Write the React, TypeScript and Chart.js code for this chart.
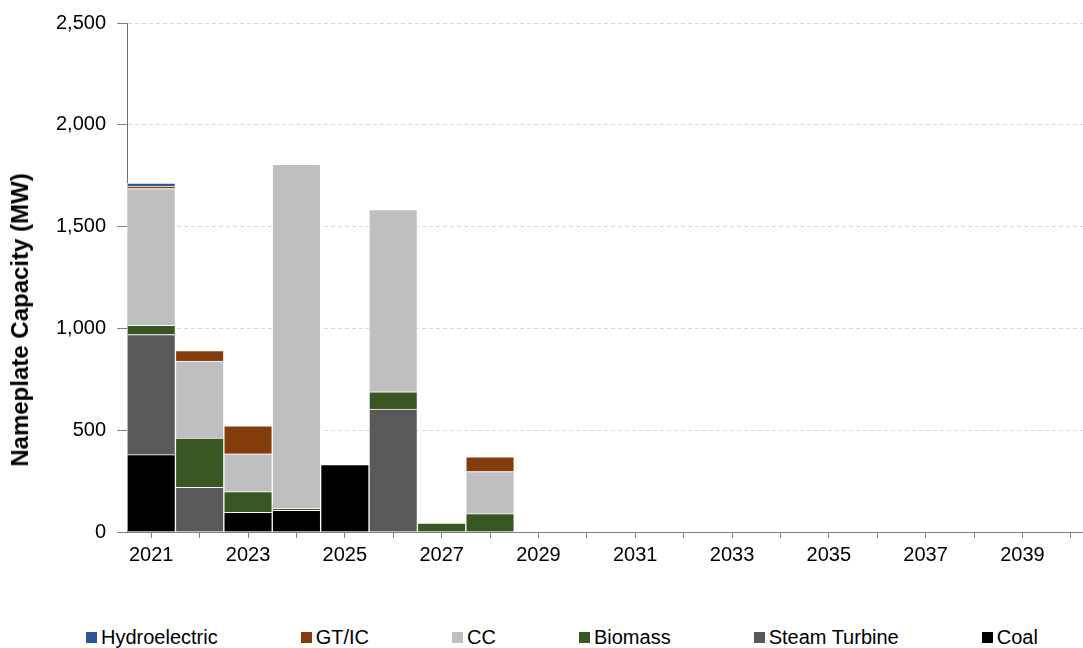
import React, { useEffect, useRef } from "react";
import { Chart, registerables } from "chart.js";

Chart.register(...registerables);

const years = ["2021","2022","2023","2024","2025","2026","2027","2028","2029","2030","2031","2032","2033","2034","2035","2036","2037","2038","2039","2040"];
const coal =         [380,   0,  97, 107, 331,   0,  0,   0, 0,0,0,0,0,0,0,0,0,0,0,0];
const steamTurbine = [590, 220,   0,   0,   0, 604,  0,   0, 0,0,0,0,0,0,0,0,0,0,0,0];
const biomass =      [ 45, 241, 101,   8,   0,  85, 44,  90, 0,0,0,0,0,0,0,0,0,0,0,0];
const cc =           [672, 379, 186,1691,   0, 894,  0, 207, 0,0,0,0,0,0,0,0,0,0,0,0];
const gtic =         [ 12,  51, 138,   0,   0,   0,  0,  72, 0,0,0,0,0,0,0,0,0,0,0,0];
const hydro =        [ 15,   0,   0,   0,   0,   0,  0,   0, 0,0,0,0,0,0,0,0,0,0,0,0];
const yTicks = [0, 500, 1000, 1500, 2000, 2500];
const yTitle = "Nameplate Capacity (MW)";

const FONT = "'Liberation Sans', Arial, sans-serif";

const seriesDefs = [
  { label: "Coal", data: coal, color: "#000000" },
  { label: "Steam Turbine", data: steamTurbine, color: "#595959" },
  { label: "Biomass", data: biomass, color: "#385723" },
  { label: "CC", data: cc, color: "#bfbfbf" },
  { label: "GT/IC", data: gtic, color: "#843c0c" },
  { label: "Hydroelectric", data: hydro, color: "#2f5597" },
];

export default function App() {
  const ref = useRef<HTMLCanvasElement | null>(null);

  useEffect(() => {
    if (!ref.current) return;
    const chart = new Chart(ref.current, {
      type: "bar",
      data: {
        labels: years,
        datasets: seriesDefs.map((s) => ({
          label: s.label,
          data: s.data,
          backgroundColor: s.color,
          borderColor: "rgba(255,255,255,0.75)",
          borderWidth: 1,
          barPercentage: 1,
          categoryPercentage: 1,
        })),
      },
      options: {
        responsive: false,
        animation: false,
        devicePixelRatio: 1,
        layout: { padding: { left: 45, right: 5, top: 11, bottom: 28 } },
        plugins: {
          legend: { display: false },
          tooltip: { enabled: false },
        },
        scales: {
          x: {
            stacked: true,
            offset: true,
            grid: {
              display: true,
              drawOnChartArea: false,
              drawTicks: true,
              tickLength: 6,
              offset: false,
              color: "#808080",
            },
            border: { display: true, color: "#808080", width: 1 },
            ticks: {
              autoSkip: false,
              maxRotation: 0,
              minRotation: 0,
              padding: 5,
              color: "#000",
              font: { family: FONT, size: 20 },
              callback: (_v: any, i: number) => (i % 2 === 0 ? years[i] : ""),
            },
          },
          y: {
            stacked: true,
            min: yTicks[0],
            max: yTicks[yTicks.length - 1],
            afterBuildTicks: (scale: any) => {
              scale.ticks = yTicks.map((v) => ({ value: v }));
            },
            grid: {
              color: "#d9d9d9",
              tickColor: "#808080",
              tickLength: 10,
              tickBorderDash: [],
            },
            border: { display: true, color: "#6f6f6f", width: 1, dash: [4, 3] },
            ticks: {
              padding: 11,
              color: "#000",
              font: { family: FONT, size: 20 },
              callback: (v: any) => Number(v).toLocaleString("en-US"),
            },
            title: { display: false },
          },
        },
      },
    });
    return () => chart.destroy();
  }, []);

  const legendOrder = [...seriesDefs].reverse();

  return (
    <div
      style={{
        position: "fixed",
        left: 0,
        top: 0,
        width: 1083,
        height: 648,
        overflow: "hidden",
        background: "#fff",
      }}
    >
      <canvas
        ref={ref}
        width={1100}
        height={600}
        style={{ position: "absolute", left: 0, top: 0, width: 1100, height: 600 }}
      />
      <div
        style={{
          position: "absolute",
          left: 20,
          top: 320,
          transform: "translate(-50%, -50%) rotate(-90deg)",
          whiteSpace: "nowrap",
          fontFamily: FONT,
          fontSize: 24,
          fontWeight: "bold",
          lineHeight: "28px",
          color: "#000",
        }}
      >
        {yTitle}
      </div>
      <div
        style={{
          position: "absolute",
          left: 86,
          top: 626,
          height: 22,
          display: "flex",
          alignItems: "center",
          gap: 83,
          fontFamily: FONT,
          fontSize: 20,
          lineHeight: "20px",
          color: "#000",
          whiteSpace: "nowrap",
        }}
      >
        {legendOrder.map((s) => (
          <div key={s.label} style={{ display: "flex", alignItems: "center" }}>
            <span
              style={{
                display: "inline-block",
                width: 11,
                height: 11,
                background: s.color,
                marginRight: 4,
              }}
            />
            <span>{s.label}</span>
          </div>
        ))}
      </div>
    </div>
  );
}
